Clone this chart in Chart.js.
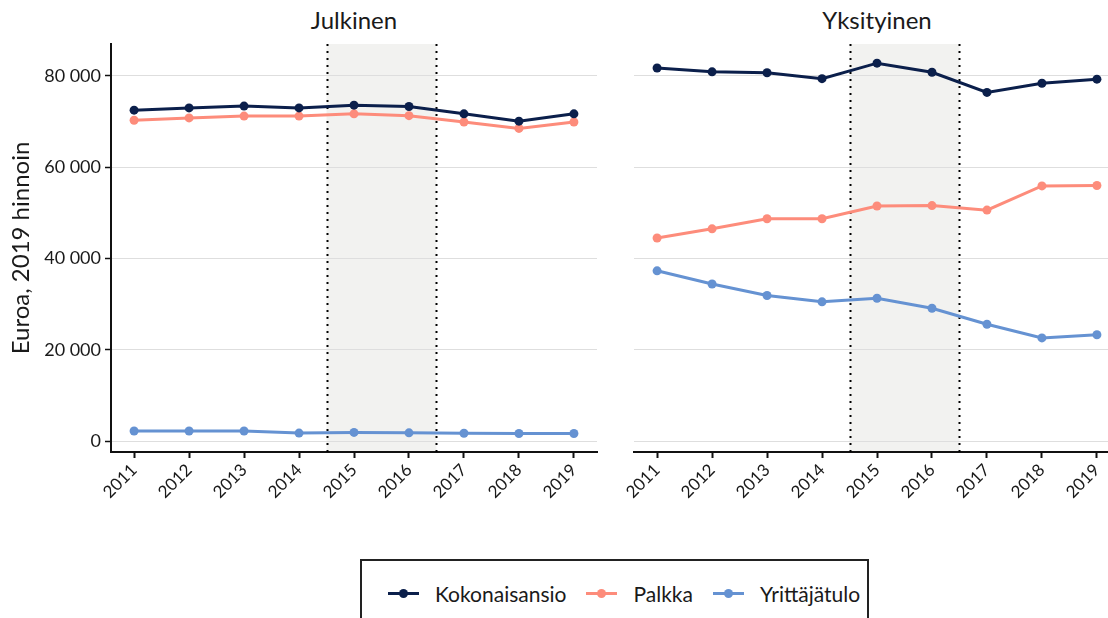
<!DOCTYPE html>
<html lang="fi">
<head>
    <meta charset="UTF-8">
    <title>Kokonaisansio, palkka ja yrittäjätulo</title>
    <style>
        body {
            margin: 0;
            width: 1108px;
            height: 618px;
            overflow: hidden;
            position: relative;
            background: #fff;
            font-family: Lato, "Open Sans", sans-serif;
            color: #1a1a1a;
        }
        .panel {
            position: absolute;
            top: 0;
            height: 530px;
        }
        #leftPanel { left: 0; width: 610px; }
        #rightPanel { left: 600px; width: 530px; }
        .title {
            position: absolute;
            top: 5px;
            font-size: 24px;
            transform: translateX(-50%);
            white-space: nowrap;
        }
        .legend {
            position: absolute;
            left: 360px;
            top: 559px;
            width: 509px;
            height: 80px;
            border: 2px solid #222;
            display: flex;
            padding: 19px 0 0 26px;
            box-sizing: border-box;
        }
        .legend .item {
            display: flex;
            align-items: center;
            flex-shrink: 0;
            white-space: nowrap;
            height: 26px;
            font-size: 21px;
            margin-right: 20px;
        }
        .legend .sw {
            position: relative;
            width: 31px;
            height: 3px;
            margin-right: 16px;
        }
        .legend .sw i {
            position: absolute;
            left: 11px;
            top: -3px;
            width: 9px;
            height: 9px;
            border-radius: 50%;
        }
    </style>
    <script src="https://cdn.jsdelivr.net/npm/chart.js"></script>
</head>
<body>
    <div class="title" style="left:354px">Julkinen</div>
    <div class="title" style="left:877px">Yksityinen</div>
    <div class="panel" id="leftPanel"><canvas id="leftChart"></canvas></div>
    <div class="panel" id="rightPanel"><canvas id="rightChart"></canvas></div>
    <div class="legend" id="legend"></div>

    <script>
        const years = [2011, 2012, 2013, 2014, 2015, 2016, 2017, 2018, 2019];
        const seriesNames = ['Kokonaisansio', 'Palkka', 'Yrittäjätulo'];
        const seriesColors = ['#0b1f4b', '#fd8c7b', '#6592d2'];

        // Julkinen
        const julkinenKokonaisansio = [72500, 73000, 73400, 73000, 73600, 73300, 71700, 70100, 71700];
        const julkinenPalkka = [70300, 70800, 71200, 71200, 71700, 71300, 69900, 68500, 69900];
        const julkinenYrittajatulo = [2200, 2200, 2200, 1750, 1900, 1800, 1700, 1650, 1650];

        // Yksityinen
        const yksityinenKokonaisansio = [81750, 80900, 80700, 79400, 82800, 80800, 76400, 78400, 79300];
        const yksityinenPalkka = [44500, 46500, 48700, 48700, 51500, 51600, 50600, 55900, 56000];
        const yksityinenYrittajatulo = [37300, 34400, 31900, 30500, 31300, 29100, 25600, 22600, 23300];

        const yTicks = [0, 20000, 40000, 60000, 80000];
        const shadeRange = [2014.5, 2016.5];

        const fmt = v => String(v).replace(/\B(?=(\d{3})+(?!\d))/g, ' ');

        const shadePlugin = {
            id: 'shade',
            beforeDraw(chart) {
                const {ctx, chartArea, scales} = chart;
                const x0 = scales.x.getPixelForValue(shadeRange[0]);
                const x1 = scales.x.getPixelForValue(shadeRange[1]);
                ctx.save();
                ctx.fillStyle = '#f2f2f0';
                ctx.fillRect(x0, chartArea.top, x1 - x0, chartArea.bottom - chartArea.top);
                ctx.restore();
            },
            beforeDatasetsDraw(chart) {
                const {ctx, chartArea, scales} = chart;
                ctx.save();
                ctx.strokeStyle = '#000';
                ctx.lineWidth = 2;
                ctx.setLineDash([2, 5]);
                shadeRange.forEach(v => {
                    const x = Math.round(scales.x.getPixelForValue(v)) + 0.5;
                    ctx.beginPath();
                    ctx.moveTo(x, chartArea.top);
                    ctx.lineTo(x, chartArea.bottom);
                    ctx.stroke();
                });
                ctx.restore();
            }
        };

        function makeDatasets(arrays) {
            return arrays.map((vals, i) => ({
                label: seriesNames[i],
                data: years.map((y, j) => ({x: y, y: vals[j]})),
                borderColor: seriesColors[i],
                backgroundColor: seriesColors[i],
                pointBackgroundColor: seriesColors[i],
                borderWidth: 3,
                pointRadius: 4.5,
                pointBorderWidth: 0,
                tension: 0
            }));
        }

        function makeChart(id, arrays, isLeft) {
            new Chart(document.getElementById(id), {
                type: 'line',
                data: {datasets: makeDatasets(arrays)},
                plugins: [shadePlugin],
                options: {
                    responsive: true,
                    maintainAspectRatio: false,
                    animation: false,
                    layout: {padding: {top: 44, left: 0, right: isLeft ? 13 : 10, bottom: 0}},
                    plugins: {legend: {display: false}, tooltip: {enabled: false}},
                    scales: {
                        x: {
                            type: 'linear',
                            min: 2010.58,
                            max: 2019.42,
                            afterBuildTicks: s => { s.ticks = years.map(v => ({value: v})); },
                            afterFit: s => { s.height = 78; s.paddingLeft = 0; s.paddingRight = 0; },
                            ticks: {
                                minRotation: 45,
                                maxRotation: 45,
                                autoSkip: false,
                                padding: 2,
                                color: '#1a1a1a',
                                font: {family: 'Lato', size: 17},
                                callback: v => String(v)
                            },
                            grid: {drawOnChartArea: false, drawTicks: true, tickLength: 6, tickColor: '#111', tickWidth: 2},
                            border: {display: true, color: '#111', width: 2}
                        },
                        y: {
                            min: -2400,
                            max: 87000,
                            afterBuildTicks: s => { s.ticks = yTicks.map(v => ({value: v})); },
                            afterFit: s => { s.width = isLeft ? 111 : 34; s.paddingTop = 0; s.paddingBottom = 0; },
                            ticks: {
                                display: isLeft,
                                padding: 4,
                                color: '#1a1a1a',
                                font: {family: 'Lato', size: 18},
                                callback: fmt
                            },
                            grid: {color: '#dedede', lineWidth: 1, drawTicks: isLeft, tickLength: 6, tickColor: '#111', tickWidth: 1.5},
                            border: {display: isLeft, color: '#111', width: 2},
                            title: {
                                display: isLeft,
                                text: 'Euroa, 2019 hinnoin',
                                color: '#1a1a1a',
                                font: {family: 'Lato', size: 24},
                                padding: {top: 7, bottom: 0}
                            }
                        }
                    }
                }
            });
        }

        makeChart('leftChart', [julkinenKokonaisansio, julkinenPalkka, julkinenYrittajatulo], true);
        makeChart('rightChart', [yksityinenKokonaisansio, yksityinenPalkka, yksityinenYrittajatulo], false);

        const legend = document.getElementById('legend');
        seriesNames.forEach((name, i) => {
            const item = document.createElement('div');
            item.className = 'item';
            item.innerHTML = '<span class="sw" style="background:' + seriesColors[i] + '"><i style="background:' +
                seriesColors[i] + '"></i></span>' + name;
            legend.appendChild(item);
        });
    </script>
</body>
</html>
